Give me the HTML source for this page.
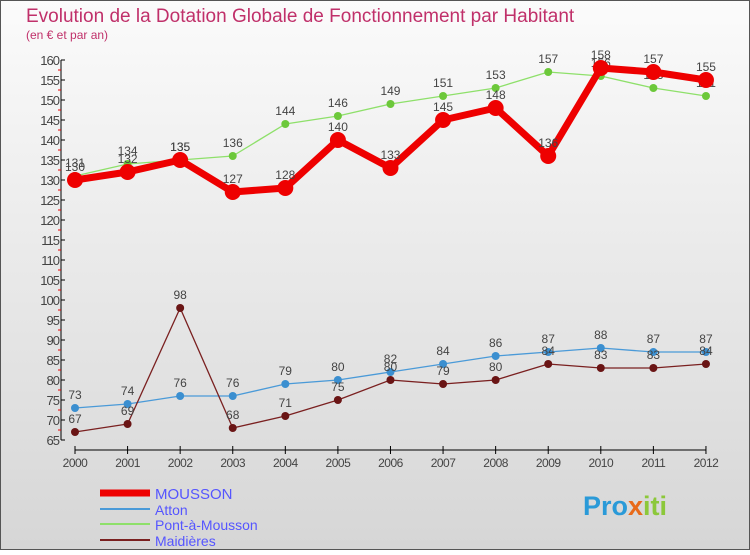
<!DOCTYPE html>
<html><head><meta charset="utf-8"><style>
body{margin:0;width:750px;height:550px;overflow:hidden;font-family:"Liberation Sans",sans-serif}
</style></head><body>
<svg width="750" height="550" xmlns="http://www.w3.org/2000/svg">
<defs><linearGradient id="bg" x1="0" y1="0" x2="0" y2="1"><stop offset="0" stop-color="#fbfbfb"/><stop offset="1" stop-color="#d6d6d6"/></linearGradient></defs>
<rect x="0.5" y="0.5" width="749" height="549" fill="url(#bg)" stroke="#555"/>
<text x="26" y="22" font-size="19" fill="#c0306a">Evolution de la Dotation Globale de Fonctionnement par Habitant</text>
<text x="26" y="39" font-size="12" fill="#c0306a">(en € et par an)</text>
<g id="axes"></g><g id="series"></g>
<g>
<line x1="100" y1="493" x2="150" y2="493" stroke="#e00" stroke-width="7"/>
<text x="155" y="499" font-size="15" fill="#55f">MOUSSON</text>
<line x1="100" y1="509" x2="150" y2="509" stroke="#4a9ad8" stroke-width="2"/>
<text x="155" y="515" font-size="14" fill="#55f">Atton</text>
<line x1="100" y1="524" x2="150" y2="524" stroke="#8ee06a" stroke-width="2"/>
<text x="155" y="530" font-size="14" fill="#55f">Pont-à-Mousson</text>
<line x1="100" y1="540" x2="150" y2="540" stroke="#7a2020" stroke-width="2"/>
<text x="155" y="546" font-size="14" fill="#55f">Maidières</text>
</g>
<text x="583" y="515" font-size="27" font-weight="bold" fill="#2a9ad8">Pro<tspan fill="#e86a1a">x</tspan><tspan fill="#8cc83a">iti</tspan></text>
</svg>
<script>
const years=["2000","2001","2002","2003","2004","2005","2006","2007","2008","2009","2010","2011","2012"];
const mousson=[130,132,135,127,128,140,133,145,148,136,158,157,155];
const atton=[73,74,76,76,79,80,82,84,86,87,88,87,87];
const pont=[131,134,135,136,144,146,149,151,153,157,156,153,151];
const maid=[67,69,98,68,71,75,80,79,80,84,83,83,84];
const yTicks=[65,70,75,80,85,90,95,100,105,110,115,120,125,130,135,140,145,150,155,160];
const NS="http://www.w3.org/2000/svg";
const X=i=>75+i*52.58, Y=v=>60+(160-v)*4;
function mk(tag,at,parent){const e=document.createElementNS(NS,tag);for(const k in at)e.setAttribute(k,at[k]);parent.appendChild(e);return e;}
const ax=document.getElementById('axes'), se=document.getElementById('series');
let l=mk('line',{x1:61,y1:Y(160),x2:61,y2:Y(65),stroke:'#000'},ax);


l=mk('line',{x1:X(0),y1:450,x2:X(12),y2:450,stroke:'#000'},ax);


yTicks.forEach(v=>{
 mk('line',{x1:61,y1:Y(v),x2:65,y2:Y(v),stroke:'#000'},ax);
 if(v<160)mk('line',{x1:58,y1:Y(v+2.5),x2:61,y2:Y(v+2.5),stroke:'#e00'},ax);
 const t=mk('text',{x:59,y:Y(v)+5,'font-size':13,'text-anchor':'end',fill:'#444','letter-spacing':'-1'},ax);
 t.textContent=v;
 
 
});
years.forEach((y,i)=>{
 mk('line',{x1:X(i),y1:446,x2:X(i),y2:454,stroke:'#000'},ax);
 const t=mk('text',{x:X(i),y:467,'font-size':12,'text-anchor':'middle',fill:'#444','letter-spacing':'-0.5'},ax);
 t.textContent=y;
 
 
});
function series(d,color,w,r,dot,name){
 const g=mk('g',{},se);
 
 
 mk('polyline',{points:d.map((v,i)=>X(i)+','+Y(v)).join(' '),fill:'none',stroke:color,'stroke-width':w,'stroke-linejoin':'round'},g);
 d.forEach((v,i)=>{
  const c=mk('circle',{cx:X(i),cy:Y(v),r:r,fill:dot,stroke:'none'},g);
  
  
  const t=mk('text',{x:X(i),y:Y(v)-9,'font-size':12,'text-anchor':'middle',fill:'#444'},g);
  t.textContent=v;
  
  
 });
}
series(atton,'#4a9ad8',1.3,4,'#3b8fd0','series-atton');
series(maid,'#7a2020',1.3,4,'#6a1515','series-maidieres');
series(pont,'#8ee06a',1.3,4,'#6cc83a','series-pont-a-mousson');
series(mousson,'#e00',7,8,'#e00','series-mousson');
</script>
</body></html>
